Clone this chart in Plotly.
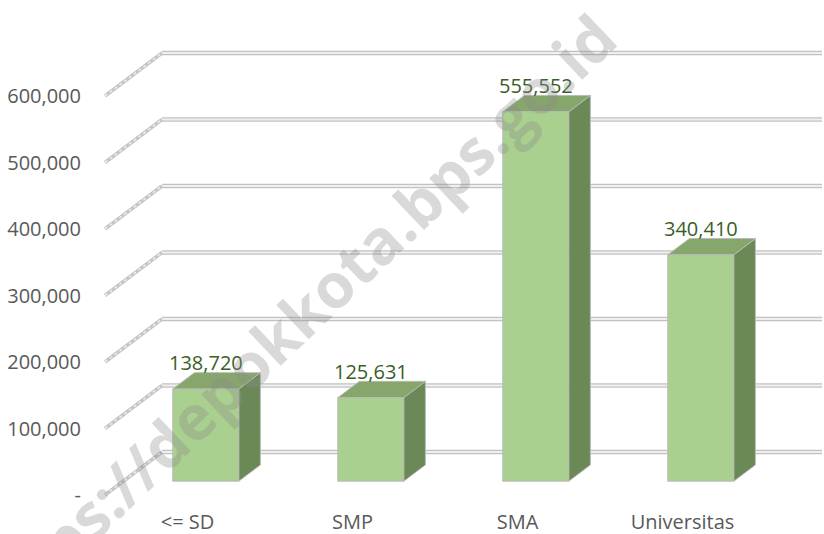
import plotly.graph_objects as go

# ---------------- data ----------------
categories = ["<= SD", "SMP", "SMA", "Universitas"]
values = [138720, 125631, 555552, 340410]
tick_values = [0, 100000, 200000, 300000, 400000, 500000, 600000]
tick_labels = ["-", "100,000", "200,000", "300,000", "400,000", "500,000", "600,000"]
watermark = "https://depokkota.bps.go.id"

# ---------------- geometry / style ----------------
W, H = 824, 534
ML, MR, MT, MB = 88, 2, 30, 29
PX_PER_CAT = 165.0
PX_PER_UNIT = 66.5 / 100000
X0_PX = 187.5          # pixel x of category 0 (front plane)
Y0_PX = 495.0          # pixel y of value 0 (front plane)
DEPTH_PX = (57.0, 43.0)
DX = DEPTH_PX[0] / PX_PER_CAT
DY = DEPTH_PX[1] / PX_PER_UNIT
T1, T2 = 0.32, 0.70    # bar depth (front / back) as fraction of full depth
BAR_W = 66.0 / PX_PER_CAT

x_range = [(ML - X0_PX) / PX_PER_CAT, (W - MR - X0_PX) / PX_PER_CAT]
y_range = [(Y0_PX - (H - MB)) / PX_PER_UNIT, (Y0_PX - MT) / PX_PER_UNIT]

FONT = "Open Sans"
FS = 20
TICK_COLOR = "#595959"
LABEL_COLOR = "#3A5E27"
FRONT = "#A9D08E"
TOP = "#86A66C"
SIDE = "#6B8957"
EDGE = "rgba(185,185,185,0.9)"

fig = go.Figure()

x_left = -0.5
x_right = len(categories) - 0.5

# back-wall gridlines
for v in tick_values:
    xs = [x_left + DX, x_right + DX]
    ys = [v + DY, v + DY]
    fig.add_trace(go.Scatter(x=xs, y=ys, mode="lines",
                             line=dict(color="#c2c2c2", width=4.5),
                             hoverinfo="skip", showlegend=False))
    fig.add_trace(go.Scatter(x=xs, y=ys, mode="lines",
                             line=dict(color="#efefef", width=2),
                             hoverinfo="skip", showlegend=False))

# left side-wall diagonals (rope look)
for v in tick_values:
    xs = [x_left, x_left + DX]
    ys = [v, v + DY]
    fig.add_trace(go.Scatter(x=xs, y=ys, mode="lines",
                             line=dict(color="#c4c4c4", width=3.5),
                             hoverinfo="skip", showlegend=False))
    fig.add_trace(go.Scatter(x=xs, y=ys, mode="lines",
                             line=dict(color="#ececec", width=1.6, dash="dot"),
                             hoverinfo="skip", showlegend=False))

# 3D bars
ddx = (T2 - T1) * DX
for i, v in enumerate(values):
    xc = i + T1 * DX
    xl, xr = xc - BAR_W / 2, xc + BAR_W / 2
    yb = T1 * DY
    yt = v + T1 * DY
    # side face
    fig.add_trace(go.Scatter(
        x=[xr, xr, xr + ddx, xr + ddx, xr],
        y=[yb, yt, v + T2 * DY, T2 * DY, yb],
        mode="lines", fill="toself", fillcolor=SIDE,
        line=dict(color=EDGE, width=1), hoverinfo="skip", showlegend=False))
    # top face
    fig.add_trace(go.Scatter(
        x=[xl, xr, xr + ddx, xl + ddx, xl],
        y=[yt, yt, v + T2 * DY, v + T2 * DY, yt],
        mode="lines", fill="toself", fillcolor=TOP,
        line=dict(color=EDGE, width=1), hoverinfo="skip", showlegend=False))
    # front face
    fig.add_trace(go.Scatter(
        x=[xl, xr, xr, xl, xl],
        y=[yb, yb, yt, yt, yb],
        mode="lines", fill="toself", fillcolor=FRONT,
        line=dict(color=EDGE, width=1), hoverinfo="skip", showlegend=False))
    # data label
    fig.add_annotation(x=xc, y=v + T2 * DY, text=f"{v:,}", showarrow=False,
                       xanchor="center", yanchor="middle", yshift=10,
                       font=dict(family=FONT, size=FS, color=LABEL_COLOR))

# watermark
fig.add_annotation(xref="paper", yref="paper",
                   x=(292 - ML) / (W - ML - MR), y=((H - MB) - 322) / (H - MT - MB),
                   text=f"<b>{watermark}</b>", showarrow=False, textangle=-43.5,
                   xanchor="center", yanchor="middle",
                   font=dict(family=FONT, size=62, color="rgba(140,140,140,0.33)"))

fig.update_layout(
    width=W, height=H,
    margin=dict(l=ML, r=MR, t=MT, b=MB),
    paper_bgcolor="white", plot_bgcolor="white",
    showlegend=False,
    xaxis=dict(range=x_range, showgrid=False, zeroline=False, showline=False,
               automargin=False,
               tickvals=list(range(len(categories))), ticktext=categories,
               ticks="", ticklabelstandoff=3,
               tickfont=dict(family=FONT, size=FS, color=TICK_COLOR),
               fixedrange=True),
    yaxis=dict(range=y_range, showgrid=False, zeroline=False, showline=False,
               automargin=False,
               tickvals=tick_values, ticktext=tick_labels,
               ticks="", ticklabelstandoff=6,
               tickfont=dict(family=FONT, size=FS, color=TICK_COLOR),
               fixedrange=True),
)

fig.write_html("out.html",
               config={"displayModeBar": False},
               post_script="document.body.style.margin='0';document.body.style.overflow='hidden';")
